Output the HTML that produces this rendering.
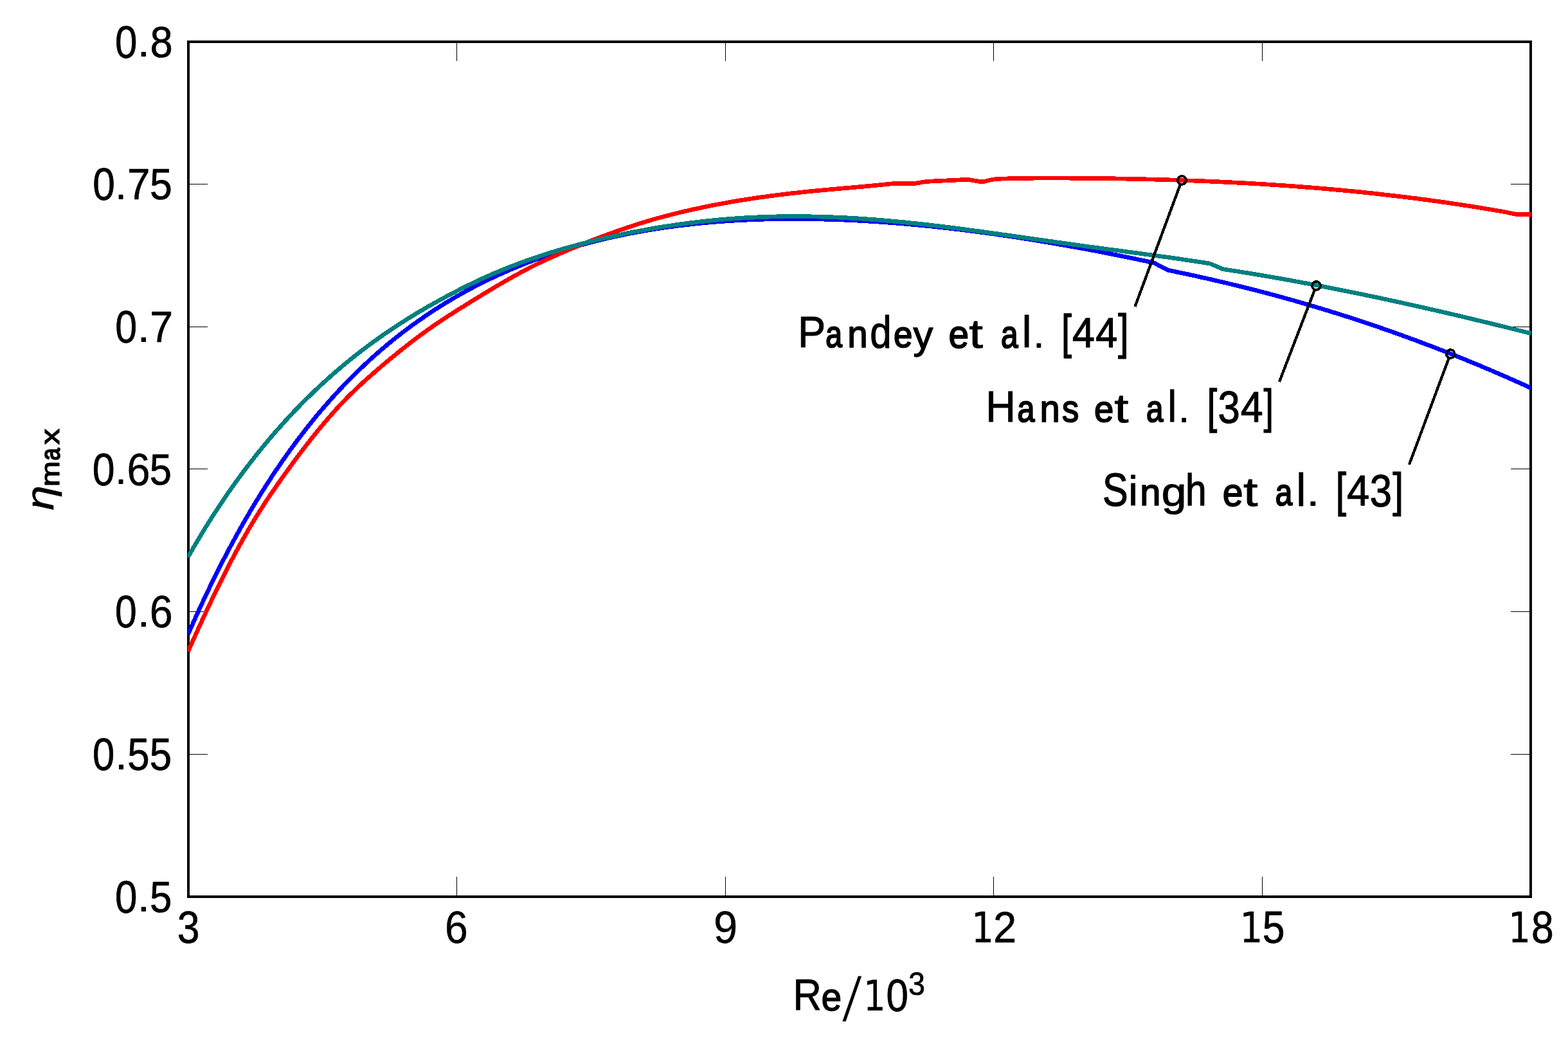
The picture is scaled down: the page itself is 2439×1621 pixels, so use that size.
<!DOCTYPE html>
<html lang="en"><head><meta charset="utf-8"><title>Maximum efficiency versus Reynolds number</title>
<style>
html,body{margin:0;padding:0;background:#fff;}
body{width:2439px;height:1621px;overflow:hidden;}
svg{display:block;}
text{font-family:"Liberation Sans",sans-serif;fill:#000;stroke:#000;stroke-linejoin:round;}
</style></head><body>
<svg width="2439" height="1621" viewBox="0 0 2439 1621">
<rect x="0" y="0" width="2439" height="1621" fill="#fff"/>
<defs><clipPath id="box"><rect x="292.0" y="64.0" width="2090.0" height="1332.0"/></clipPath></defs>

<g fill="#000" shape-rendering="crispEdges">
<rect x="710" y="1364" width="1" height="31"/>
<rect x="710" y="65" width="1" height="30"/>
<rect x="1128" y="1364" width="1" height="31"/>
<rect x="1128" y="65" width="1" height="30"/>
<rect x="1545" y="1364" width="1" height="31"/>
<rect x="1545" y="65" width="1" height="30"/>
<rect x="1963" y="1364" width="1" height="31"/>
<rect x="1963" y="65" width="1" height="30"/>
<rect x="293" y="1173" width="30" height="1"/>
<rect x="2350" y="1173" width="31" height="1"/>
<rect x="293" y="951" width="30" height="1"/>
<rect x="2350" y="951" width="31" height="1"/>
<rect x="293" y="729" width="30" height="1"/>
<rect x="2350" y="729" width="31" height="1"/>
<rect x="293" y="508" width="30" height="1"/>
<rect x="2350" y="508" width="31" height="1"/>
<rect x="293" y="286" width="30" height="1"/>
<rect x="2350" y="286" width="31" height="1"/>
</g>
<rect x="293.0" y="65.0" width="2088.0" height="1330.0" fill="none" stroke="#000" stroke-width="4" shape-rendering="crispEdges"/>
<g clip-path="url(#box)" fill="none" stroke-width="6.67" stroke-linejoin="round" shape-rendering="crispEdges">
<path stroke="#0000ff" d="M292.5,987.0 L299.0,972.2 L305.0,958.8 L311.0,945.7 L317.0,932.8 L323.0,920.2 L329.0,907.8 L335.0,895.6 L341.0,883.6 L347.0,871.9 L353.0,860.4 L359.0,849.1 L365.0,838.1 L371.0,827.2 L377.0,816.5 L383.0,806.1 L389.0,795.8 L395.0,785.8 L401.0,775.9 L407.0,766.2 L413.0,756.7 L419.0,747.4 L425.0,738.2 L431.0,729.3 L437.0,720.5 L443.0,711.9 L449.0,703.4 L455.0,695.1 L461.0,687.0 L467.0,679.1 L473.0,671.3 L479.0,663.6 L485.0,656.1 L491.0,648.7 L497.0,641.5 L503.0,634.5 L509.0,627.6 L515.0,620.8 L521.0,614.2 L527.0,607.7 L533.0,601.3 L539.0,595.0 L545.0,588.9 L551.0,582.9 L557.0,577.1 L563.0,571.3 L569.0,565.7 L575.0,560.1 L581.0,554.7 L587.0,549.4 L593.0,544.2 L599.0,539.1 L605.0,534.1 L611.0,529.2 L617.0,524.4 L623.0,519.7 L629.0,515.1 L635.0,510.6 L641.0,506.2 L647.0,501.9 L653.0,497.6 L659.0,493.5 L665.0,489.4 L671.0,485.4 L677.0,481.5 L683.0,477.7 L689.0,473.9 L695.0,470.2 L701.0,466.6 L707.0,463.1 L713.0,459.6 L719.0,456.3 L725.0,452.9 L731.0,449.7 L737.0,446.5 L743.0,443.4 L749.0,440.4 L755.0,437.4 L761.0,434.4 L767.0,431.6 L773.0,428.8 L779.0,426.1 L785.0,423.4 L791.0,420.8 L797.0,418.2 L803.0,415.7 L809.0,413.2 L815.0,410.8 L821.0,408.5 L827.0,406.2 L833.0,404.0 L839.0,401.8 L845.0,399.6 L851.0,397.5 L857.0,395.5 L863.0,393.5 L869.0,391.5 L875.0,389.6 L881.0,387.8 L887.0,386.0 L893.0,384.2 L899.0,382.5 L905.0,380.8 L911.0,379.2 L917.0,377.6 L923.0,376.0 L929.0,374.5 L935.0,373.0 L941.0,371.6 L947.0,370.2 L953.0,368.8 L959.0,367.5 L965.0,366.3 L971.0,365.0 L977.0,363.8 L983.0,362.6 L989.0,361.5 L995.0,360.4 L1001.0,359.3 L1007.0,358.3 L1013.0,357.3 L1019.0,356.3 L1025.0,355.4 L1031.0,354.5 L1037.0,353.6 L1043.0,352.8 L1049.0,352.0 L1055.0,351.2 L1061.0,350.5 L1067.0,349.8 L1073.0,349.1 L1079.0,348.4 L1085.0,347.8 L1091.0,347.2 L1097.0,346.6 L1103.0,346.1 L1109.0,345.6 L1115.0,345.1 L1121.0,344.6 L1127.0,344.2 L1133.0,343.8 L1139.0,343.4 L1145.0,343.0 L1151.0,342.7 L1157.0,342.4 L1163.0,342.1 L1169.0,341.8 L1175.0,341.6 L1181.0,341.4 L1187.0,341.2 L1193.0,341.0 L1199.0,340.9 L1205.0,340.8 L1211.0,340.7 L1217.0,340.6 L1223.0,340.6 L1229.0,340.5 L1235.0,340.5 L1241.0,340.5 L1247.0,340.6 L1253.0,340.6 L1259.0,340.7 L1265.0,340.8 L1271.0,340.9 L1277.0,341.0 L1283.0,341.2 L1289.0,341.3 L1295.0,341.5 L1301.0,341.7 L1307.0,341.9 L1313.0,342.2 L1319.0,342.5 L1325.0,342.7 L1331.0,343.0 L1337.0,343.3 L1343.0,343.7 L1349.0,344.0 L1355.0,344.4 L1361.0,344.8 L1367.0,345.2 L1373.0,345.6 L1379.0,346.0 L1385.0,346.5 L1391.0,346.9 L1397.0,347.4 L1403.0,347.9 L1409.0,348.4 L1415.0,349.0 L1421.0,349.5 L1427.0,350.1 L1433.0,350.6 L1439.0,351.2 L1445.0,351.8 L1451.0,352.4 L1457.0,353.1 L1463.0,353.7 L1469.0,354.4 L1475.0,355.1 L1481.0,355.7 L1487.0,356.5 L1493.0,357.2 L1499.0,357.9 L1505.0,358.6 L1511.0,359.4 L1517.0,360.2 L1523.0,361.0 L1529.0,361.8 L1535.0,362.6 L1541.0,363.4 L1547.0,364.2 L1553.0,365.1 L1559.0,366.0 L1565.0,366.8 L1571.0,367.7 L1577.0,368.6 L1583.0,369.5 L1589.0,370.5 L1595.0,371.4 L1601.0,372.3 L1607.0,373.3 L1613.0,374.3 L1619.0,375.3 L1625.0,376.3 L1631.0,377.3 L1637.0,378.3 L1643.0,379.3 L1649.0,380.4 L1655.0,381.4 L1661.0,382.5 L1667.0,383.6 L1673.0,384.6 L1679.0,385.7 L1685.0,386.8 L1691.0,388.0 L1697.0,389.1 L1703.0,390.2 L1709.0,391.4 L1715.0,392.5 L1721.0,393.7 L1727.0,394.9 L1733.0,396.1 L1739.0,397.3 L1745.0,398.5 L1751.0,399.7 L1757.0,400.9 L1763.0,402.2 L1769.0,403.4 L1775.0,404.7 L1781.0,406.0 L1787.0,407.2 L1793.0,408.5 L1795.3,409.0 L1816.7,420.3 L1822.7,421.5 L1828.7,422.7 L1834.7,424.0 L1840.7,425.3 L1846.7,426.5 L1852.7,427.8 L1858.7,429.1 L1864.7,430.5 L1870.7,431.8 L1876.7,433.1 L1882.7,434.5 L1888.7,435.9 L1894.7,437.3 L1900.7,438.7 L1906.7,440.1 L1912.7,441.5 L1918.7,443.0 L1924.7,444.4 L1930.7,445.9 L1936.7,447.4 L1942.7,448.9 L1948.7,450.4 L1954.7,452.0 L1960.7,453.5 L1966.7,455.1 L1972.7,456.7 L1978.7,458.3 L1984.7,459.9 L1990.7,461.5 L1996.7,463.2 L2002.7,464.9 L2008.7,466.5 L2014.7,468.2 L2020.7,470.0 L2026.7,471.7 L2032.7,473.4 L2038.7,475.2 L2044.7,477.0 L2050.7,478.8 L2056.7,480.6 L2062.7,482.4 L2068.7,484.2 L2074.7,486.1 L2080.7,488.0 L2086.7,489.9 L2092.7,491.8 L2098.7,493.7 L2104.7,495.7 L2110.7,497.6 L2116.7,499.6 L2122.7,501.6 L2128.7,503.6 L2134.7,505.6 L2140.7,507.7 L2146.7,509.7 L2152.7,511.8 L2158.7,513.9 L2164.7,516.0 L2170.7,518.1 L2176.7,520.3 L2182.7,522.4 L2188.7,524.6 L2194.7,526.8 L2200.7,529.0 L2206.7,531.3 L2212.7,533.5 L2218.7,535.8 L2224.7,538.0 L2230.7,540.3 L2236.7,542.7 L2242.7,545.0 L2248.7,547.3 L2254.7,549.7 L2260.7,552.1 L2266.7,554.5 L2272.7,556.9 L2278.7,559.3 L2284.7,561.8 L2290.7,564.3 L2296.7,566.7 L2302.7,569.2 L2308.7,571.8 L2314.7,574.3 L2320.7,576.8 L2326.7,579.4 L2332.7,582.0 L2338.7,584.6 L2344.7,587.2 L2350.7,589.9 L2356.7,592.5 L2362.7,595.2 L2368.7,597.9 L2374.7,600.6 L2380.7,603.3 L2381.6,603.7"/>
<path stroke="#ff0000" d="M292.5,1013.6 L299.0,999.0 L305.0,985.7 L311.0,972.5 L317.0,959.5 L323.0,946.7 L329.0,934.0 L335.0,921.5 L341.0,909.3 L347.0,897.2 L353.0,885.4 L359.0,873.8 L365.0,862.5 L371.0,851.4 L377.0,840.6 L383.0,830.0 L389.0,819.7 L395.0,809.7 L401.0,799.9 L407.0,790.4 L413.0,781.2 L419.0,772.1 L425.0,763.3 L431.0,754.6 L437.0,746.0 L443.0,737.6 L449.0,729.3 L455.0,721.1 L461.0,712.9 L467.0,704.9 L473.0,697.1 L479.0,689.3 L485.0,681.7 L491.0,674.2 L497.0,666.8 L503.0,659.6 L509.0,652.6 L515.0,645.6 L521.0,638.9 L527.0,632.3 L533.0,625.9 L539.0,619.7 L545.0,613.7 L551.0,607.8 L557.0,602.1 L563.0,596.5 L569.0,591.0 L575.0,585.7 L581.0,580.4 L587.0,575.2 L593.0,570.1 L599.0,565.0 L605.0,560.0 L611.0,555.1 L617.0,550.2 L623.0,545.3 L629.0,540.6 L635.0,535.8 L641.0,531.2 L647.0,526.6 L653.0,522.2 L659.0,517.8 L665.0,513.4 L671.0,509.2 L677.0,505.0 L683.0,501.0 L689.0,497.0 L695.0,493.0 L701.0,489.2 L707.0,485.3 L713.0,481.5 L719.0,477.8 L725.0,474.0 L731.0,470.3 L737.0,466.6 L743.0,463.0 L749.0,459.3 L755.0,455.6 L761.0,452.0 L767.0,448.4 L773.0,444.9 L779.0,441.3 L785.0,437.8 L791.0,434.4 L797.0,431.0 L803.0,427.7 L809.0,424.4 L815.0,421.2 L821.0,418.0 L827.0,415.0 L833.0,412.0 L839.0,409.0 L845.0,406.2 L851.0,403.4 L857.0,400.6 L863.0,398.0 L869.0,395.3 L875.0,392.7 L881.0,390.2 L887.0,387.6 L893.0,385.2 L899.0,382.7 L905.0,380.3 L911.0,377.9 L917.0,375.5 L923.0,373.1 L929.0,370.8 L935.0,368.5 L941.0,366.3 L947.0,364.0 L953.0,361.9 L959.0,359.7 L965.0,357.6 L971.0,355.6 L977.0,353.5 L983.0,351.6 L989.0,349.6 L995.0,347.7 L1001.0,345.9 L1007.0,344.1 L1013.0,342.3 L1019.0,340.6 L1025.0,338.9 L1031.0,337.3 L1037.0,335.7 L1043.0,334.2 L1049.0,332.6 L1055.0,331.2 L1061.0,329.7 L1067.0,328.3 L1073.0,326.9 L1079.0,325.6 L1085.0,324.3 L1091.0,323.0 L1097.0,321.7 L1103.0,320.5 L1109.0,319.3 L1115.0,318.2 L1121.0,317.1 L1127.0,316.0 L1133.0,314.9 L1139.0,313.8 L1145.0,312.8 L1151.0,311.8 L1157.0,310.9 L1163.0,309.9 L1169.0,309.0 L1175.0,308.1 L1181.0,307.2 L1187.0,306.4 L1193.0,305.6 L1199.0,304.8 L1205.0,304.0 L1211.0,303.2 L1217.0,302.5 L1223.0,301.8 L1229.0,301.0 L1235.0,300.4 L1241.0,299.7 L1247.0,299.1 L1253.0,298.4 L1259.0,297.8 L1265.0,297.2 L1271.0,296.6 L1277.0,296.1 L1283.0,295.5 L1289.0,295.0 L1295.0,294.4 L1301.0,293.9 L1307.0,293.4 L1313.0,292.8 L1319.0,292.3 L1325.0,291.8 L1331.0,291.3 L1337.0,290.7 L1343.0,290.2 L1349.0,289.6 L1355.0,289.1 L1361.0,288.5 L1367.0,287.9 L1373.0,287.3 L1379.0,286.7 L1385.0,286.1 L1390.0,285.6 L1421.0,285.8 L1440.0,282.5 L1460.0,281.4 L1485.0,280.3 L1500.0,279.5 L1507.0,279.6 L1524.5,282.5 L1531.0,282.3 L1545.0,279.0 L1556.0,278.2 L1575.0,277.6 L1600.0,277.2 L1606.0,277.2 L1612.0,277.1 L1618.0,277.1 L1624.0,277.1 L1630.0,277.1 L1636.0,277.1 L1642.0,277.1 L1648.0,277.1 L1654.0,277.1 L1660.0,277.1 L1666.0,277.2 L1672.0,277.2 L1678.0,277.2 L1684.0,277.3 L1690.0,277.3 L1696.0,277.4 L1702.0,277.5 L1708.0,277.5 L1714.0,277.6 L1720.0,277.7 L1726.0,277.8 L1732.0,277.8 L1738.0,277.9 L1744.0,278.0 L1750.0,278.1 L1756.0,278.3 L1762.0,278.4 L1768.0,278.5 L1774.0,278.6 L1780.0,278.8 L1786.0,278.9 L1792.0,279.1 L1798.0,279.2 L1804.0,279.4 L1810.0,279.6 L1816.0,279.8 L1822.0,279.9 L1828.0,280.1 L1834.0,280.3 L1840.0,280.5 L1846.0,280.8 L1852.0,281.0 L1858.0,281.2 L1864.0,281.4 L1870.0,281.7 L1876.0,281.9 L1882.0,282.2 L1888.0,282.5 L1894.0,282.7 L1900.0,283.0 L1906.0,283.3 L1912.0,283.6 L1918.0,283.9 L1924.0,284.2 L1930.0,284.5 L1936.0,284.8 L1942.0,285.2 L1948.0,285.5 L1954.0,285.9 L1960.0,286.2 L1966.0,286.6 L1972.0,287.0 L1978.0,287.4 L1984.0,287.8 L1990.0,288.2 L1996.0,288.6 L2002.0,289.0 L2008.0,289.4 L2014.0,289.9 L2020.0,290.3 L2026.0,290.8 L2032.0,291.3 L2038.0,291.7 L2044.0,292.2 L2050.0,292.7 L2056.0,293.2 L2062.0,293.7 L2068.0,294.3 L2074.0,294.8 L2080.0,295.3 L2086.0,295.9 L2092.0,296.5 L2098.0,297.0 L2104.0,297.6 L2110.0,298.2 L2116.0,298.8 L2122.0,299.4 L2128.0,300.1 L2134.0,300.7 L2140.0,301.3 L2146.0,302.0 L2152.0,302.7 L2158.0,303.4 L2164.0,304.1 L2170.0,304.8 L2176.0,305.5 L2182.0,306.2 L2188.0,306.9 L2194.0,307.7 L2200.0,308.4 L2206.0,309.2 L2212.0,310.0 L2218.0,310.8 L2224.0,311.6 L2230.0,312.4 L2236.0,313.2 L2242.0,314.1 L2248.0,314.9 L2254.0,315.8 L2260.0,316.7 L2266.0,317.6 L2272.0,318.5 L2278.0,319.4 L2284.0,320.3 L2290.0,321.3 L2296.0,322.2 L2302.0,323.2 L2308.0,324.2 L2314.0,325.2 L2320.0,326.2 L2326.0,327.2 L2332.0,328.2 L2338.0,329.2 L2340.0,329.6 L2358.4,333.3 L2381.6,333.5"/>
<path stroke="#008080" d="M292.5,866.6 L299.0,855.2 L305.0,844.9 L311.0,834.9 L317.0,825.0 L323.0,815.3 L329.0,805.8 L335.0,796.5 L341.0,787.3 L347.0,778.3 L353.0,769.6 L359.0,760.9 L365.0,752.5 L371.0,744.2 L377.0,736.0 L383.0,728.0 L389.0,720.2 L395.0,712.5 L401.0,704.9 L407.0,697.5 L413.0,690.2 L419.0,683.0 L425.0,676.0 L431.0,669.1 L437.0,662.4 L443.0,655.7 L449.0,649.2 L455.0,642.8 L461.0,636.5 L467.0,630.3 L473.0,624.2 L479.0,618.3 L485.0,612.4 L491.0,606.7 L497.0,601.0 L503.0,595.5 L509.0,590.1 L515.0,584.7 L521.0,579.5 L527.0,574.3 L533.0,569.2 L539.0,564.2 L545.0,559.4 L551.0,554.6 L557.0,549.8 L563.0,545.2 L569.0,540.6 L575.0,536.2 L581.0,531.8 L587.0,527.5 L593.0,523.2 L599.0,519.1 L605.0,515.0 L611.0,510.9 L617.0,507.0 L623.0,503.1 L629.0,499.3 L635.0,495.5 L641.0,491.8 L647.0,488.1 L653.0,484.5 L659.0,481.0 L665.0,477.5 L671.0,474.1 L677.0,470.7 L683.0,467.4 L689.0,464.1 L695.0,460.9 L701.0,457.7 L707.0,454.6 L713.0,451.5 L719.0,448.4 L725.0,445.4 L731.0,442.5 L737.0,439.6 L743.0,436.7 L749.0,433.9 L755.0,431.2 L761.0,428.5 L767.0,425.9 L773.0,423.4 L779.0,420.9 L785.0,418.4 L791.0,416.0 L797.0,413.7 L803.0,411.4 L809.0,409.1 L815.0,406.9 L821.0,404.8 L827.0,402.7 L833.0,400.6 L839.0,398.6 L845.0,396.6 L851.0,394.7 L857.0,392.8 L863.0,391.0 L869.0,389.2 L875.0,387.4 L881.0,385.7 L887.0,384.0 L893.0,382.4 L899.0,380.8 L905.0,379.2 L911.0,377.7 L917.0,376.2 L923.0,374.7 L929.0,373.2 L935.0,371.8 L941.0,370.4 L947.0,369.0 L953.0,367.7 L959.0,366.4 L965.0,365.1 L971.0,363.8 L977.0,362.6 L983.0,361.4 L989.0,360.2 L995.0,359.1 L1001.0,358.0 L1007.0,356.9 L1013.0,355.8 L1019.0,354.8 L1025.0,353.8 L1031.0,352.8 L1037.0,351.9 L1043.0,351.0 L1049.0,350.1 L1055.0,349.2 L1061.0,348.4 L1067.0,347.6 L1073.0,346.8 L1079.0,346.1 L1085.0,345.3 L1091.0,344.7 L1097.0,344.0 L1103.0,343.4 L1109.0,342.8 L1115.0,342.2 L1121.0,341.6 L1127.0,341.1 L1133.0,340.6 L1139.0,340.2 L1145.0,339.7 L1151.0,339.3 L1157.0,338.9 L1163.0,338.6 L1169.0,338.3 L1175.0,338.0 L1181.0,337.7 L1187.0,337.5 L1193.0,337.3 L1199.0,337.1 L1205.0,336.9 L1211.0,336.8 L1217.0,336.7 L1223.0,336.6 L1229.0,336.6 L1235.0,336.6 L1241.0,336.6 L1247.0,336.6 L1253.0,336.7 L1259.0,336.8 L1265.0,336.9 L1271.0,337.0 L1277.0,337.2 L1283.0,337.4 L1289.0,337.6 L1295.0,337.8 L1301.0,338.0 L1307.0,338.3 L1313.0,338.6 L1319.0,338.9 L1325.0,339.3 L1331.0,339.6 L1337.0,340.0 L1343.0,340.4 L1349.0,340.9 L1355.0,341.3 L1361.0,341.7 L1367.0,342.2 L1373.0,342.7 L1379.0,343.2 L1385.0,343.8 L1391.0,344.3 L1397.0,344.9 L1403.0,345.4 L1409.0,346.0 L1415.0,346.7 L1421.0,347.3 L1427.0,347.9 L1433.0,348.6 L1439.0,349.2 L1445.0,349.9 L1451.0,350.6 L1457.0,351.3 L1463.0,352.0 L1469.0,352.8 L1475.0,353.5 L1481.0,354.3 L1487.0,355.0 L1493.0,355.8 L1499.0,356.6 L1505.0,357.4 L1511.0,358.2 L1517.0,359.0 L1523.0,359.8 L1529.0,360.6 L1535.0,361.4 L1541.0,362.3 L1547.0,363.1 L1553.0,363.9 L1559.0,364.8 L1565.0,365.6 L1571.0,366.4 L1577.0,367.3 L1583.0,368.1 L1589.0,369.0 L1595.0,369.9 L1601.0,370.7 L1607.0,371.6 L1613.0,372.4 L1619.0,373.3 L1625.0,374.1 L1631.0,375.0 L1637.0,375.8 L1643.0,376.7 L1649.0,377.5 L1655.0,378.4 L1661.0,379.2 L1667.0,380.1 L1673.0,380.9 L1679.0,381.7 L1685.0,382.6 L1691.0,383.4 L1697.0,384.2 L1703.0,385.0 L1709.0,385.8 L1715.0,386.6 L1721.0,387.4 L1727.0,388.2 L1733.0,389.0 L1739.0,389.8 L1745.0,390.6 L1751.0,391.4 L1757.0,392.2 L1763.0,393.0 L1769.0,393.8 L1775.0,394.6 L1781.0,395.4 L1787.0,396.2 L1793.0,397.0 L1799.0,397.9 L1805.0,398.7 L1811.0,399.5 L1817.0,400.3 L1823.0,401.2 L1829.0,402.0 L1835.0,402.9 L1841.0,403.8 L1847.0,404.7 L1853.0,405.6 L1859.0,406.5 L1865.0,407.4 L1871.0,408.3 L1877.0,409.3 L1881.8,410.0 L1902.4,418.7 L1908.4,419.6 L1914.4,420.6 L1920.4,421.5 L1926.4,422.4 L1932.4,423.4 L1938.4,424.4 L1944.4,425.3 L1950.4,426.3 L1956.4,427.3 L1962.4,428.3 L1968.4,429.4 L1974.4,430.4 L1980.4,431.4 L1986.4,432.5 L1992.4,433.5 L1998.4,434.6 L2004.4,435.7 L2010.4,436.8 L2016.4,437.9 L2022.4,439.0 L2028.4,440.1 L2034.4,441.2 L2040.4,442.3 L2046.4,443.5 L2052.4,444.6 L2058.4,445.8 L2064.4,447.0 L2070.4,448.1 L2076.4,449.3 L2082.4,450.5 L2088.4,451.7 L2094.4,452.9 L2100.4,454.1 L2106.4,455.3 L2112.4,456.6 L2118.4,457.8 L2124.4,459.1 L2130.4,460.3 L2136.4,461.6 L2142.4,462.8 L2148.4,464.1 L2154.4,465.4 L2160.4,466.7 L2166.4,468.0 L2172.4,469.3 L2178.4,470.6 L2184.4,471.9 L2190.4,473.3 L2196.4,474.6 L2202.4,475.9 L2208.4,477.3 L2214.4,478.6 L2220.4,480.0 L2226.4,481.4 L2232.4,482.7 L2238.4,484.1 L2244.4,485.5 L2250.4,486.9 L2256.4,488.3 L2262.4,489.7 L2268.4,491.1 L2274.4,492.5 L2280.4,494.0 L2286.4,495.4 L2292.4,496.8 L2298.4,498.3 L2304.4,499.7 L2310.4,501.2 L2316.4,502.6 L2322.4,504.1 L2328.4,505.6 L2334.4,507.0 L2340.4,508.5 L2346.4,510.0 L2352.4,511.5 L2358.4,513.0 L2364.4,514.5 L2370.4,516.0 L2376.4,517.5 L2381.6,518.9"/>
</g>
<g fill="none" stroke="#000" shape-rendering="crispEdges">
<circle cx="1838.4" cy="280.4" r="6.5" stroke-width="3.8"/>
<line x1="1835.6" y1="287.9" x2="1765.5" y2="476.9" stroke-width="4.3"/>
<circle cx="2047.5" cy="444.4" r="6.5" stroke-width="3.8"/>
<line x1="2044.6" y1="451.9" x2="1990.0" y2="594.0" stroke-width="4.3"/>
<circle cx="2256.2" cy="550.5" r="6.5" stroke-width="3.8"/>
<line x1="2253.4" y1="558.0" x2="2192.0" y2="722.7" stroke-width="4.3"/>
</g>
<g>
<text><tspan x="178.91" y="89.54" font-size="69.51" textLength="34.43" lengthAdjust="spacingAndGlyphs" stroke-width="0.76">0</tspan><tspan x="215.89" y="87.07" font-size="50.65" textLength="15.23" lengthAdjust="spacingAndGlyphs" stroke-width="1.92">.</tspan><tspan x="233.41" y="89.16" font-size="69.01" textLength="35.21" lengthAdjust="spacingAndGlyphs" stroke-width="0.67">8</tspan></text>
<text><tspan x="144.15" y="310.54" font-size="70.13" textLength="34.58" lengthAdjust="spacingAndGlyphs" stroke-width="0.76">0</tspan><tspan x="180.94" y="308.51" font-size="49.78" textLength="14.11" lengthAdjust="spacingAndGlyphs" stroke-width="2.03">.</tspan><tspan x="198.07" y="310.05" font-size="68.67" textLength="35.41" lengthAdjust="spacingAndGlyphs" stroke-width="0.69">7</tspan><tspan x="233.05" y="310.43" font-size="69.42" textLength="34.83" lengthAdjust="spacingAndGlyphs" stroke-width="0.74">5</tspan></text>
<text><tspan x="179.17" y="532.73" font-size="69.51" textLength="33.86" lengthAdjust="spacingAndGlyphs" stroke-width="0.76">0</tspan><tspan x="215.89" y="530.57" font-size="50.65" textLength="15.23" lengthAdjust="spacingAndGlyphs" stroke-width="1.92">.</tspan><tspan x="233.23" y="531.75" font-size="68.82" textLength="35.85" lengthAdjust="spacingAndGlyphs" stroke-width="0.69">7</tspan></text>
<text><tspan x="143.74" y="754.54" font-size="69.51" textLength="34.77" lengthAdjust="spacingAndGlyphs" stroke-width="0.76">0</tspan><tspan x="180.94" y="752.01" font-size="49.78" textLength="14.11" lengthAdjust="spacingAndGlyphs" stroke-width="2.03">.</tspan><tspan x="197.59" y="754.58" font-size="69.53" textLength="36.05" lengthAdjust="spacingAndGlyphs" stroke-width="0.54">6</tspan><tspan x="232.69" y="754.43" font-size="69.45" textLength="34.21" lengthAdjust="spacingAndGlyphs" stroke-width="0.74">5</tspan></text>
<text><tspan x="179.09" y="975.54" font-size="70.13" textLength="33.69" lengthAdjust="spacingAndGlyphs" stroke-width="0.76">0</tspan><tspan x="215.89" y="973.57" font-size="50.65" textLength="15.23" lengthAdjust="spacingAndGlyphs" stroke-width="1.92">.</tspan><tspan x="232.71" y="975.83" font-size="69.83" textLength="36.01" lengthAdjust="spacingAndGlyphs" stroke-width="0.54">6</tspan></text>
<text><tspan x="143.93" y="1197.73" font-size="69.51" textLength="34.19" lengthAdjust="spacingAndGlyphs" stroke-width="0.76">0</tspan><tspan x="181.34" y="1195.58" font-size="51.21" textLength="14.51" lengthAdjust="spacingAndGlyphs" stroke-width="2.03">.</tspan><tspan x="198.20" y="1197.76" font-size="69.46" textLength="34.37" lengthAdjust="spacingAndGlyphs" stroke-width="0.74">5</tspan><tspan x="232.71" y="1197.85" font-size="69.47" textLength="34.38" lengthAdjust="spacingAndGlyphs" stroke-width="0.74">5</tspan></text>
<text><tspan x="178.91" y="1419.54" font-size="69.51" textLength="34.43" lengthAdjust="spacingAndGlyphs" stroke-width="0.76">0</tspan><tspan x="215.89" y="1417.07" font-size="50.65" textLength="15.23" lengthAdjust="spacingAndGlyphs" stroke-width="1.92">.</tspan><tspan x="232.91" y="1419.31" font-size="68.81" textLength="34.42" lengthAdjust="spacingAndGlyphs" stroke-width="0.74">5</tspan></text>
<text><tspan x="275.76" y="1466.87" font-size="70.27" textLength="34.85" lengthAdjust="spacingAndGlyphs" stroke-width="0.66">3</tspan></text>
<text><tspan x="692.09" y="1466.96" font-size="70.51" textLength="35.80" lengthAdjust="spacingAndGlyphs" stroke-width="0.49">6</tspan></text>
<text><tspan x="1110.03" y="1466.96" font-size="70.52" textLength="37.17" lengthAdjust="spacingAndGlyphs" stroke-width="0.48">9</tspan></text>
<text><tspan x="1511.07" y="1465.90" font-size="65.23" textLength="35.05" lengthAdjust="spacingAndGlyphs" stroke-width="0.20" font-family="DejaVu Sans, sans-serif">1</tspan><tspan x="1545.05" y="1466.00" font-size="68.88" textLength="36.11" lengthAdjust="spacingAndGlyphs" stroke-width="0.64">2</tspan></text>
<text><tspan x="1928.24" y="1465.86" font-size="65.33" textLength="36.19" lengthAdjust="spacingAndGlyphs" stroke-width="0.20" font-family="DejaVu Sans, sans-serif">1</tspan><tspan x="1963.68" y="1467.39" font-size="69.47" textLength="34.77" lengthAdjust="spacingAndGlyphs" stroke-width="0.73">5</tspan></text>
<text><tspan x="2345.97" y="1465.90" font-size="65.23" textLength="35.05" lengthAdjust="spacingAndGlyphs" stroke-width="0.20" font-family="DejaVu Sans, sans-serif">1</tspan><tspan x="2382.11" y="1466.86" font-size="70.23" textLength="34.78" lengthAdjust="spacingAndGlyphs" stroke-width="0.69">8</tspan></text>
<text><tspan x="1233.61" y="1571.05" font-size="69.34" textLength="44.48" lengthAdjust="spacingAndGlyphs" stroke-width="0.81">R</tspan><tspan x="1277.52" y="1571.51" font-size="60.62" textLength="31.72" lengthAdjust="spacingAndGlyphs" stroke-width="1.48">e</tspan><tspan x="1308.96" y="1580.78" font-size="85.92" textLength="32.52" lengthAdjust="spacingAndGlyphs" stroke-width="0.20" font-family="DejaVu Sans, sans-serif" font-weight="200">/</tspan><tspan x="1343.03" y="1571.80" font-size="65.23" textLength="34.76" lengthAdjust="spacingAndGlyphs" stroke-width="0.20" font-family="DejaVu Sans, sans-serif">1</tspan><tspan x="1378.47" y="1572.79" font-size="70.14" textLength="34.40" lengthAdjust="spacingAndGlyphs" stroke-width="0.87">0</tspan><tspan x="1413.01" y="1547.59" font-size="49.31" textLength="25.97" lengthAdjust="spacingAndGlyphs" stroke-width="0.73">3</tspan></text>
<text><tspan x="1240.91" y="540.10" font-size="68.94" textLength="43.21" lengthAdjust="spacingAndGlyphs" stroke-width="1.03">P</tspan><tspan x="1284.27" y="539.85" font-size="58.87" textLength="25.74" lengthAdjust="spacingAndGlyphs" stroke-width="2.20">a</tspan><tspan x="1318.30" y="539.82" font-size="59.22" textLength="31.38" lengthAdjust="spacingAndGlyphs" stroke-width="1.76">n</tspan><tspan x="1353.36" y="540.97" font-size="70.55" textLength="33.33" lengthAdjust="spacingAndGlyphs" stroke-width="1.25">d</tspan><tspan x="1389.99" y="540.35" font-size="57.62" textLength="29.41" lengthAdjust="spacingAndGlyphs" stroke-width="1.89">e</tspan><tspan x="1420.58" y="541.72" font-size="60.95" textLength="30.73" lengthAdjust="spacingAndGlyphs" stroke-width="1.44">y</tspan> <tspan x="1475.45" y="541.39" font-size="61.51" textLength="31.55" lengthAdjust="spacingAndGlyphs" stroke-width="1.82">e</tspan><tspan x="1507.32" y="541.19" font-size="62.26" textLength="21.74" lengthAdjust="spacingAndGlyphs" stroke-width="0.90">t</tspan> <tspan x="1556.96" y="541.17" font-size="60.35" textLength="26.57" lengthAdjust="spacingAndGlyphs" stroke-width="2.20">a</tspan><tspan x="1589.67" y="540.23" font-size="68.61" textLength="14.62" lengthAdjust="spacingAndGlyphs" stroke-width="1.10">l</tspan><tspan x="1609.19" y="540.00" font-size="46.63" textLength="13.21" lengthAdjust="spacingAndGlyphs" stroke-width="2.20">.</tspan> <tspan x="1651.11" y="542.20" font-size="73.73" textLength="15.92" lengthAdjust="spacingAndGlyphs" stroke-width="1.46">[</tspan><tspan x="1668.07" y="539.79" font-size="65.54" textLength="34.86" lengthAdjust="spacingAndGlyphs" stroke-width="1.25">4</tspan><tspan x="1704.27" y="540.47" font-size="65.20" textLength="33.92" lengthAdjust="spacingAndGlyphs" stroke-width="1.25">4</tspan><tspan x="1738.93" y="542.20" font-size="75.69" textLength="16.80" lengthAdjust="spacingAndGlyphs" stroke-width="1.17">]</tspan></text>
<text><tspan x="1533.34" y="656.21" font-size="68.18" textLength="46.75" lengthAdjust="spacingAndGlyphs" stroke-width="0.94">H</tspan><tspan x="1582.54" y="656.09" font-size="59.41" textLength="26.97" lengthAdjust="spacingAndGlyphs" stroke-width="2.20">a</tspan><tspan x="1617.47" y="655.64" font-size="59.21" textLength="31.26" lengthAdjust="spacingAndGlyphs" stroke-width="1.77">n</tspan><tspan x="1651.93" y="656.34" font-size="60.01" textLength="26.16" lengthAdjust="spacingAndGlyphs" stroke-width="2.04">s</tspan> <tspan x="1701.91" y="656.29" font-size="57.75" textLength="30.30" lengthAdjust="spacingAndGlyphs" stroke-width="1.82">e</tspan><tspan x="1733.39" y="656.91" font-size="62.76" textLength="22.22" lengthAdjust="spacingAndGlyphs" stroke-width="0.90">t</tspan> <tspan x="1782.94" y="655.71" font-size="59.80" textLength="26.47" lengthAdjust="spacingAndGlyphs" stroke-width="2.20">a</tspan><tspan x="1816.45" y="656.45" font-size="69.45" textLength="13.52" lengthAdjust="spacingAndGlyphs" stroke-width="1.10">l</tspan><tspan x="1835.09" y="655.90" font-size="46.63" textLength="13.21" lengthAdjust="spacingAndGlyphs" stroke-width="2.20">.</tspan> <tspan x="1877.69" y="657.78" font-size="73.56" textLength="15.38" lengthAdjust="spacingAndGlyphs" stroke-width="1.46">[</tspan><tspan x="1894.38" y="658.42" font-size="69.52" textLength="34.27" lengthAdjust="spacingAndGlyphs" stroke-width="1.19">3</tspan><tspan x="1930.05" y="655.93" font-size="66.45" textLength="34.51" lengthAdjust="spacingAndGlyphs" stroke-width="1.25">4</tspan><tspan x="1965.39" y="657.54" font-size="73.47" textLength="15.53" lengthAdjust="spacingAndGlyphs" stroke-width="1.17">]</tspan></text>
<text><tspan x="1714.95" y="787.12" font-size="72.04" textLength="39.65" lengthAdjust="spacingAndGlyphs" stroke-width="1.22">S</tspan><tspan x="1755.40" y="786.32" font-size="64.90" textLength="14.12" lengthAdjust="spacingAndGlyphs" stroke-width="1.15">i</tspan><tspan x="1773.15" y="786.11" font-size="59.54" textLength="32.13" lengthAdjust="spacingAndGlyphs" stroke-width="1.74">n</tspan><tspan x="1806.65" y="787.24" font-size="62.68" textLength="38.76" lengthAdjust="spacingAndGlyphs" stroke-width="1.13">g</tspan><tspan x="1843.93" y="786.21" font-size="68.79" textLength="32.63" lengthAdjust="spacingAndGlyphs" stroke-width="1.31">h</tspan> <tspan x="1901.81" y="786.75" font-size="61.94" textLength="31.73" lengthAdjust="spacingAndGlyphs" stroke-width="1.82">e</tspan><tspan x="1934.13" y="786.53" font-size="62.91" textLength="22.48" lengthAdjust="spacingAndGlyphs" stroke-width="0.90">t</tspan> <tspan x="1983.72" y="786.05" font-size="59.70" textLength="26.51" lengthAdjust="spacingAndGlyphs" stroke-width="2.20">a</tspan><tspan x="2016.43" y="786.95" font-size="71.90" textLength="14.62" lengthAdjust="spacingAndGlyphs" stroke-width="1.10">l</tspan><tspan x="2034.83" y="786.40" font-size="46.39" textLength="15.10" lengthAdjust="spacingAndGlyphs" stroke-width="2.20">.</tspan> <tspan x="2077.68" y="787.52" font-size="74.04" textLength="16.28" lengthAdjust="spacingAndGlyphs" stroke-width="1.46">[</tspan><tspan x="2095.31" y="785.51" font-size="66.68" textLength="34.92" lengthAdjust="spacingAndGlyphs" stroke-width="1.25">4</tspan><tspan x="2130.84" y="788.08" font-size="69.52" textLength="34.27" lengthAdjust="spacingAndGlyphs" stroke-width="1.19">3</tspan><tspan x="2166.25" y="788.24" font-size="73.64" textLength="16.98" lengthAdjust="spacingAndGlyphs" stroke-width="1.17">]</tspan></text>
<text transform="rotate(-90)"><tspan x="-793.79" y="82.84" font-size="61.77" textLength="38.64" lengthAdjust="spacingAndGlyphs" stroke-width="0.64" font-style="italic">η</tspan><tspan x="-757.09" y="92.35" font-size="41.49" textLength="39.76" lengthAdjust="spacingAndGlyphs" stroke-width="1.31">m</tspan><tspan x="-716.13" y="92.64" font-size="43.34" textLength="19.27" lengthAdjust="spacingAndGlyphs" stroke-width="1.91">a</tspan><tspan x="-691.70" y="92.38" font-size="39.89" textLength="24.92" lengthAdjust="spacingAndGlyphs" stroke-width="1.24">x</tspan></text>
</g>
</svg></body></html>
